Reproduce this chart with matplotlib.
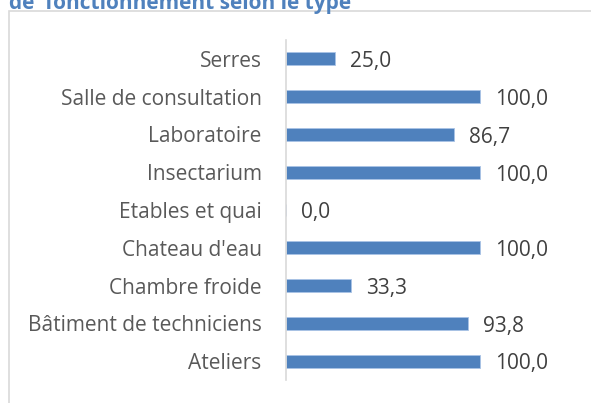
import matplotlib.pyplot as plt
from matplotlib.patches import Rectangle

categories = ['Serres', 'Salle de consultation', 'Laboratoire', 'Insectarium',
              'Etables et quai', "Chateau d'eau", 'Chambre froide',
              'Bâtiment de techniciens', 'Ateliers']
values = [25.0, 100.0, 86.7, 100.0, 0.0, 100.0, 33.3, 93.8, 100.0]
title = 'de  fonctionnement selon le type'

W, H = 591, 403
plt.rcParams['font.family'] = ['Open Sans', 'DejaVu Sans']

fig = plt.figure(figsize=(W / 100, H / 100), dpi=100)

# chart border, running off the right and bottom edges
fig.patches.append(Rectangle((9 / W, -0.1), 1.2, 1 - 11 / H + 0.1,
                             transform=fig.transFigure, fill=False,
                             edgecolor='#d9d9d9', linewidth=1.2))

fig.text(9 / W, 1 - 9 / H, title, fontsize=15, fontweight='bold',
         color='#4F81BD', va='baseline', ha='left')

ax = fig.add_axes([286 / W, 1 - 380 / H, (577 - 286) / W, (380 - 40) / H])
pos = list(range(len(categories)))
ax.barh(pos, values, height=0.34, color='#4F81BD', edgecolor='#a9c3e6',
        linewidth=0.6)
ax.set_ylim(len(categories) - 0.5, -0.5)
ax.set_xlim(0, 150)
ax.set_yticks(pos)
ax.set_yticklabels(categories, fontsize=15, color='#595959')
ax.tick_params(axis='y', length=0, pad=17.5)
ax.set_xticks([])
for s in ['top', 'right', 'bottom']:
    ax.spines[s].set_visible(False)
ax.spines['left'].set_color('#d9d9d9')
ax.spines['left'].set_linewidth(1.2)

for p, v in zip(pos, values):
    ax.annotate(f'{v:.1f}'.replace('.', ','), (v, p), xytext=(11, -2),
                textcoords='offset points', va='center', ha='left',
                fontsize=15, color='#404040')

fig.savefig('out.png', dpi=100)
